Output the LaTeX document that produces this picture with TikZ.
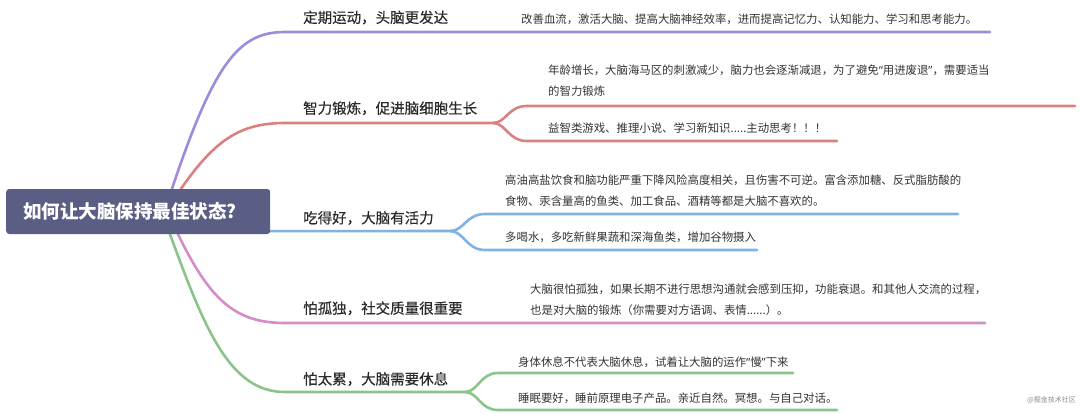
\documentclass[tikz,border=0pt]{standalone}
\usepackage{fontspec}
\usetikzlibrary{calc,backgrounds}
\newfontfamily\cjk{Noto Sans CJK SC}
\newfontfamily\latq{Noto Sans}
\newfontfamily\cjklab[FakeBold=0.4]{Noto Sans CJK SC}
\newcommand\myoq{{\latq “}}
\newcommand\mycq{{\latq ”}}
\definecolor{rootc}{HTML}{5B5E84}
\definecolor{purp}{HTML}{9D8BDB}
\definecolor{redc}{HTML}{D9817E}
\definecolor{bluec}{HTML}{7FB2E5}
\definecolor{pinkc}{HTML}{D58CC9}
\definecolor{greenc}{HTML}{8BC48B}
\definecolor{labc}{HTML}{2A2A2A}
\definecolor{detc}{HTML}{333333}
\begin{document}
\begin{tikzpicture}[x=1pt,y=-1pt,
  br/.style={line width=2.6pt,line cap=round},
  lab/.style={anchor=west,inner sep=0pt,text=labc,font=\cjklab\fontsize{14.5}{17}\selectfont},
  det/.style={anchor=west,inner sep=0pt,text=detc,align=left,font=\cjk\fontsize{11.4}{21}\selectfont},
]
\useasboundingbox (0,0) rectangle (1080,413);

% root
\node[fill=rootc,rounded corners=3pt,anchor=west,text width=230pt,inner xsep=17pt,
      minimum height=45pt,align=left,text=white,font=\cjk\bfseries\fontsize{18.5}{22}\selectfont]
  (root) at (6,211.5) {如何让大脑保持最佳状态?};

% topic labels
\node[lab] (t1) at (303,17.5) {定期运动，头脑更发达};
\node[lab] (t2) at (303,108.3) {智力锻炼，促进脑细胞生长};
\node[lab] (t3) at (303,218) {吃得好，大脑有活力};
\node[lab] (t4) at (303,308.3) {怕孤独，社交质量很重要};
\node[lab] (t5) at (303,379) {怕太累，大脑需要休息};

% details
\node[det] (d1) at (521,19.5) {改善血流，激活大脑、提高大脑神经效率，进而提高记忆力、认知能力、学习和思考能力。};
\node[det] (d2a) at (548,81) {年龄增长，大脑海马区的刺激减少，脑力也会逐渐减退，为了避免\myoq 用进废退\mycq ，需要适当\\的智力锻炼};
\node[det] (d2b) at (548,128) {益智类游戏、推理小说、学习新知识.....主动思考！！！};
\node[det] (d3a) at (505,191) {高油高盐饮食和脑功能严重下降风险高度相关，且伤害不可逆。富含添加糖、反式脂肪酸的\\食物、汞含量高的鱼类、加工食品、酒精等都是大脑不喜欢的。};
\node[det] (d3b) at (505,237.3) {多喝水，多吃新鲜果蔬和深海鱼类，增加谷物摄入};
\node[det] (d4) at (530,299.5) {大脑很怕孤独，如果长期不进行思想沟通就会感到压抑，功能衰退。和其他人交流的过程，\\也是对大脑的锻炼（你需要对方语调、表情......）。};
\node[det] (d5a) at (518,362) {身体休息不代表大脑休息，试着让大脑的运作\myoq 慢\mycq 下来};
\node[det] (d5b) at (518,398.3) {睡眠要好，睡前原理电子产品。亲近自然。冥想。与自己对话。};

\node[anchor=east,inner sep=0pt,text=black!45,font=\cjk\fontsize{7}{8}\selectfont] (wm) at (1076,400) {@掘金技术社区};

% branch coordinates
\coordinate (p0) at ($(root.north west)+(166,0)$);
\coordinate (p1) at (285,32);   \coordinate (p2) at (990,32);
\coordinate (r0) at ($(root.north west)+(175,0)$);
\coordinate (r1) at (285,123);  \coordinate (rf) at (493,123);
\coordinate (ru) at (527,106);  \coordinate (rue) at (1075,106);
\coordinate (rd) at (527,141);  \coordinate (rde) at (837,141);
\coordinate (b0) at ($(root.south east)+(0,-3)$);
\coordinate (bf) at (450,231);
\coordinate (bu) at (485,214);  \coordinate (bue) at (958,214);
\coordinate (bd) at (485,250);  \coordinate (bde) at (757,250);
\coordinate (k0) at ($(root.south west)+(172,0)$);
\coordinate (k1) at (285,323);  \coordinate (k2) at (985,323);
\coordinate (g0) at ($(root.south west)+(164,0)$);
\coordinate (g1) at (285,392);  \coordinate (gf) at (465,392);
\coordinate (gu) at (498,373);  \coordinate (gue) at (793,373);
\coordinate (gd) at (498,410);  \coordinate (gde) at (837,410);

\begin{scope}[on background layer]
\draw[br,purp] ($(p0)+(0,8)$) -- (p0) .. controls (215,60) and (240,32) .. (p1) -- (p2);
\draw[br,redc] ($(r0)+(0,8)$) -- (r0) .. controls (215,140) and (240,123) .. (r1) -- (rf);
\draw[br,redc] (rf) .. controls (506,123) and (508,106) .. (ru) -- (rue);
\draw[br,redc] (rf) .. controls (506,123) and (508,141) .. (rd) -- (rde);
\draw[br,bluec] ($(b0)+(-8,0)$) -- (bf);
\draw[br,bluec] (bf) .. controls (464,231) and (466,214) .. (bu) -- (bue);
\draw[br,bluec] (bf) .. controls (464,231) and (466,250) .. (bd) -- (bde);
\draw[br,pinkc] ($(k0)+(0,-8)$) -- (k0) .. controls (210,300) and (235,323) .. (k1) -- (k2);
\draw[br,greenc] ($(g0)+(0,-8)$) -- (g0) .. controls (205,330) and (230,392) .. (g1) -- (gf);
\draw[br,greenc] (gf) .. controls (478,392) and (480,373) .. (gu) -- (gue);
\draw[br,greenc] (gf) .. controls (478,392) and (480,410) .. (gd) -- (gde);
\end{scope}
\end{tikzpicture}
\end{document}
